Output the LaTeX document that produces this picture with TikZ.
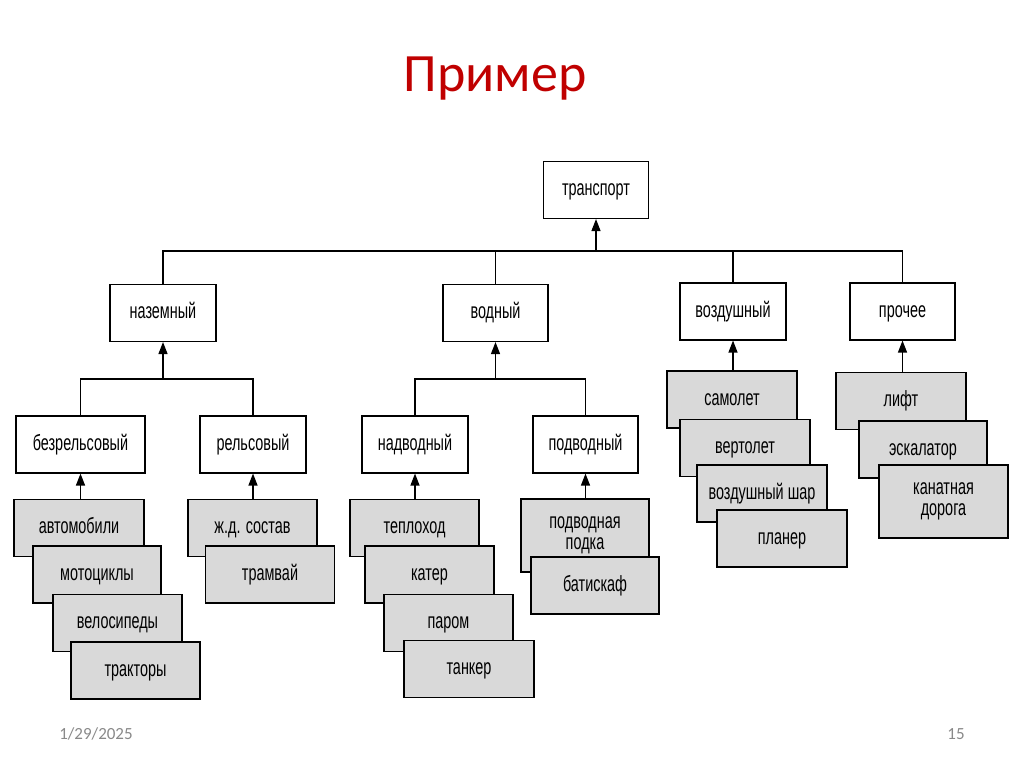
\documentclass[tikz,border=0pt]{standalone}
\usepackage{fontspec}
\usepackage{tikz}
\usetikzlibrary{arrows.meta}
\newfontfamily\boxfont[FakeStretch=0.655]{Liberation Sans}
\newfontfamily\slidefont{Carlito}
\definecolor{titleRed}{RGB}{192,0,0}
\definecolor{leafGray}{RGB}{217,217,217}
\definecolor{footGray}{RGB}{137,137,137}
\tikzset{
  box/.style={draw=black, line width=1.1pt, fill=white, inner sep=0pt,
    minimum height=57pt, align=center, text height=16pt, text depth=4.5pt,
    font=\boxfont\fontsize{22}{21}\selectfont},
  leaf/.style={box, fill=leafGray, line width=1.4pt, minimum width=129pt},
  twoline/.style={text height={}, text depth={}, minimum height=73pt},
  link/.style={line width=1.2pt},
  arr/.style={link, -{Triangle[length=12pt,width=9pt]}}
}

\begin{document}
\begin{tikzpicture}[x=1pt,y=-1pt]
    \fill[white] (0,0) rectangle (1024,767);
    \useasboundingbox (0,0) rectangle (1024,767);
    % title and footer
    \node[anchor=base, text=titleRed, font=\slidefont\fontsize{54}{54}\selectfont] (title) at (495,92) {Пример};
    \node[anchor=base, text=footGray, font=\slidefont\fontsize{17}{17}\selectfont] (date) at (96,739) {1/29/2025};
    \node[anchor=base, text=footGray, font=\slidefont\fontsize{17}{17}\selectfont] (page) at (956,739) {15};
    % top levels
    \node[box, minimum width=105pt] (transport) at (596,190) {транспорт};
    \node[box, minimum width=106pt] (nazem) at (163,313) {наземный};
    \node[box, minimum width=105pt] (vodny) at (495.5,313) {водный};
    \node[box, minimum width=106pt] (vozd) at (733,311.5) {воздушный};
    \node[box, minimum width=105pt] (proch) at (902.5,311.5) {прочее};
    \node[box, minimum width=129pt] (bezrel) at (80.5,444.5) {безрельсовый};
    \node[box, minimum width=106pt] (rels) at (253,444.5) {рельсовый};
    \node[box, minimum width=106pt] (nadv) at (415,444.5) {надводный};
    \node[box, minimum width=105pt] (podv) at (585.5,444.5) {подводный};
    \coordinate (b0) at (596,251);
    \coordinate (b1) at (163,379);
    \coordinate (b2) at (495.5,379);
    \draw[link] (nazem.north) |- (b0) -| (proch.north);
    \draw[link] (vodny.north) -- (vodny.north |- b0);
    \draw[link] (vozd.north) -- (vozd.north |- b0);
    \draw[arr] (b0) -- (transport.south);
    \draw[link] (bezrel.north) |- (b1) -| (rels.north);
    \draw[arr] (b1) -- (nazem.south);
    \draw[link] (nadv.north) |- (b2) -| (podv.north);
    \draw[arr] (b2) -- (vodny.south);
    % leaves
    \node[leaf, minimum width=130pt] (avto) at (79,528) {автомобили};
    \node[leaf, minimum width=128pt] (moto) at (97,574.5) {мотоциклы};
    \node[leaf] (velo) at (117.5,623) {велосипеды};
    \node[leaf] (trakt) at (135.5,670.5) {тракторы};
    \node[leaf] (zhd) at (252.5,528) {ж.д. состав};
    \node[leaf] (tram) at (270,574.5) {трамвай};
    \node[leaf] (teplo) at (414.5,528) {теплоход};
    \node[leaf] (kater) at (429.5,574.5) {катер};
    \node[leaf] (parom) at (448.5,623) {паром};
    \node[leaf, minimum width=130pt] (tanker) at (469,669) {танкер};
    \node[leaf, twoline, minimum width=128pt] (podlod) at (585,535.5) {подводная\\подка};
    \node[leaf, minimum width=128pt] (batis) at (595,585.5) {батискаф};
    \node[leaf, minimum width=130pt] (samol) at (732,399.5) {самолет};
    \node[leaf, minimum width=130pt] (vert) at (745,448) {вертолет};
    \node[leaf, minimum width=130pt] (shar) at (762,493.5) {воздушный шар};
    \node[leaf, minimum width=130pt] (planer) at (782,538.5) {планер};
    \node[leaf, minimum width=130pt] (lift) at (901,401) {лифт};
    \node[leaf, minimum width=128pt] (eskal) at (923,449.5) {эскалатор};
    \node[leaf, twoline] (kanat) at (943.5,501.5) {канатная\\дорога};
    \draw[arr] (bezrel.south |- avto.north) -- (bezrel.south);
    \draw[arr] (rels.south |- zhd.north) -- (rels.south);
    \draw[arr] (nadv.south |- teplo.north) -- (nadv.south);
    \draw[arr] (podv.south |- podlod.north) -- (podv.south);
    \draw[arr] (vozd.south |- samol.north) -- (vozd.south);
    \draw[arr] (proch.south |- lift.north) -- (proch.south);
\end{tikzpicture}
\end{document}
